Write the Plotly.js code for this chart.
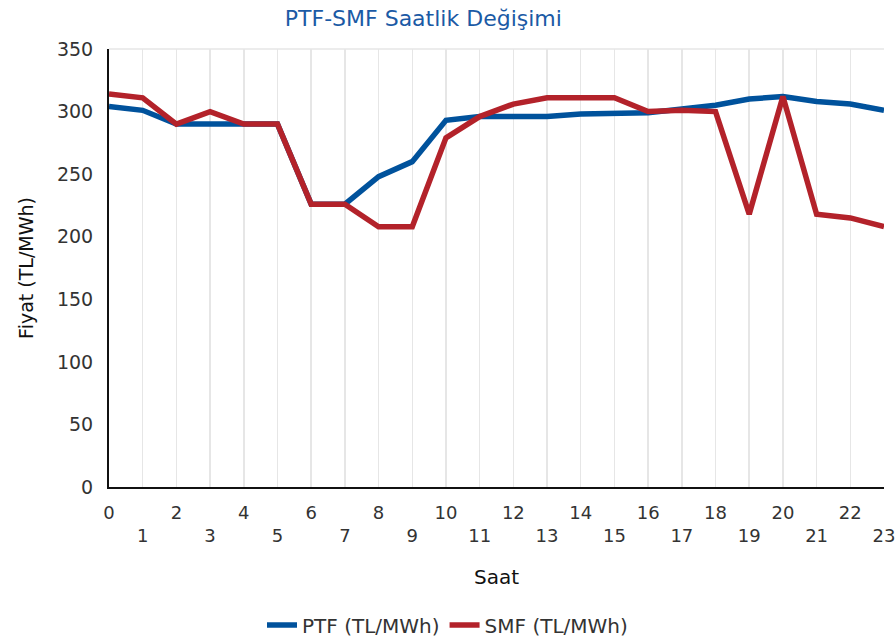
<!DOCTYPE html>
<html><head><meta charset="utf-8">
<script src="https://cdn.plot.ly/plotly-3.0.1.min.js"></script>
<style>html,body{margin:0;padding:0;background:#fff}#c{width:895px;height:640px}</style>
</head><body><div id="c"></div>
<script>
const hours = [0,1,2,3,4,5,6,7,8,9,10,11,12,13,14,15,16,17,18,19,20,21,22,23];
const ptf = [304,301,290,290,290,290,226,226,248,260,293,296,296,296,298,298,299,302,305,310,312,308,306,301];
const smf = [314,311,290,300,290,290,226,226,208,208,279,296,306,311,311,311,300,301,300,218,312,218,215,208];
const yTicks = [0,50,100,150,200,250,300,350];
const tickLabels = hours.map(h => h % 2 === 0 ? String(h) : ' <br>' + h);
const fontFam = 'DejaVu Sans, Verdana, sans-serif';

const data = [
  {x: hours, y: ptf, type: 'scatter', mode: 'lines', name: 'PTF (TL/MWh)',
   line: {color: '#00529c', width: 5.5}},
  {x: hours, y: smf, type: 'scatter', mode: 'lines', name: 'SMF (TL/MWh)',
   line: {color: '#b3222a', width: 5.5}}
];
const layout = {
  width: 895, height: 640,
  margin: {l: 109, r: 11, t: 49, b: 153},
  paper_bgcolor: '#fff', plot_bgcolor: '#fff',
  font: {family: fontFam, size: 18, color: '#333'},
  title: {text: 'PTF-SMF Saatlik Değişimi', font: {family: fontFam, size: 22, color: '#1b5aa5'},
          xref: 'container', x: 0.473, xanchor: 'center',
          yref: 'container', y: 0.972, yanchor: 'middle'},
  xaxis: {range: [0, 23], tickmode: 'array', tickvals: hours, ticktext: tickLabels,
          automargin: false, ticklabeloverflow: 'allow',
          showgrid: true, gridcolor: '#e6e6e6', gridwidth: 1.5, zeroline: false,
          showline: true, linecolor: '#111', linewidth: 2, ticks: '',
          tickfont: {size: 18},
          ticklabelstandoff: 8,
          title: {text: 'Saat', font: {size: 20, color: '#111'}, standoff: 25}},
  yaxis: {range: [0, 350], tickmode: 'array', tickvals: yTicks,
          automargin: false,
          showgrid: false, zeroline: false,
          showline: true, linecolor: '#111', linewidth: 2, ticks: '',
          tickfont: {size: 19},
          ticklabelstandoff: 10,
          title: {text: 'Fiyat (TL/MWh)', font: {size: 19, color: '#111'}, standoff: 18}},
  shapes: [{type: 'line', xref: 'paper', yref: 'paper', x0: 0, x1: 1, y0: 1, y1: 1,
            line: {color: '#e6e6e6', width: 1.5}}],
  showlegend: true,
  legend: {orientation: 'h', xref: 'container', x: 0.5, xanchor: 'center',
           yref: 'container', y: 0.0234, yanchor: 'middle',
           font: {size: 20}, itemwidth: 30, tracegroupgap: 0}
};
Plotly.newPlot('c', data, layout, {displayModeBar: false, staticPlot: true});
</script></body></html>
